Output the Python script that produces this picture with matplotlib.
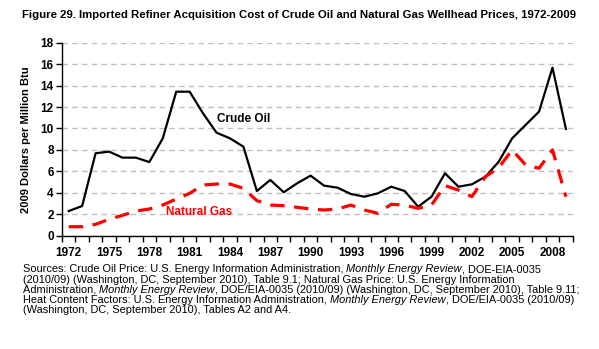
import numpy as np
import matplotlib
matplotlib.use("Agg")
import matplotlib.pyplot as plt

plt.rcParams['font.family'] = ['Liberation Sans', 'DejaVu Sans']

years = list(range(1972, 2010))
crude_oil = [2.30, 2.77, 7.69, 7.84, 7.28, 7.28, 6.87, 9.08, 13.43, 13.43,
             11.40, 9.61, 9.08, 8.30, 4.17, 5.20, 4.05, 4.89, 5.60, 4.67,
             4.48, 3.89, 3.64, 3.95, 4.57, 4.17, 2.71, 3.64, 5.82, 4.57,
             4.79, 5.50, 6.90, 9.08, 10.33, 11.57, 15.67, 9.95]
natural_gas = [0.84, 0.84, 1.06, 1.53, 1.90, 2.30, 2.49, 2.86, 3.42, 3.95,
               4.73, 4.82, 4.82, 4.42, 3.27, 2.86, 2.80, 2.65, 2.49, 2.40,
               2.49, 2.86, 2.40, 2.09, 2.93, 2.86, 2.55, 2.86, 4.67, 4.26,
               3.64, 5.50, 6.35, 8.00, 6.60, 6.29, 8.00, 3.64]
tick_years = list(range(1972, 2010, 3))

title = "Figure 29. Imported Refiner Acquisition Cost of Crude Oil and Natural Gas Wellhead Prices, 1972-2009"
source_lines = [
    [("Sources: Crude Oil Price: U.S. Energy Information Administration, ", "normal"),
     ("Monthly Energy Review", "italic"), (", DOE-EIA-0035", "normal")],
    [("(2010/09) (Washington, DC, September 2010), Table 9.1; Natural Gas Price: U.S. Energy Information", "normal")],
    [("Administration, ", "normal"), ("Monthly Energy Review", "italic"),
     (", DOE/EIA-0035 (2010/09) (Washington, DC, September 2010), Table 9.11;", "normal")],
    [("Heat Content Factors: U.S. Energy Information Administration, ", "normal"),
     ("Monthly Energy Review", "italic"), (", DOE/EIA-0035 (2010/09)", "normal")],
    [("(Washington, DC, September 2010), Tables A2 and A4.", "normal")],
]

fig = plt.figure(figsize=(5.99, 3.49), dpi=100)
ax = fig.add_axes([0.1035, 0.3246, 0.8525, 0.5531])

x = np.arange(len(years))
ax.plot(x, crude_oil, color='black', linewidth=1.6, zorder=3)
ax.plot(x, natural_gas, color='#ff0000', linewidth=2.3, dashes=(4.5, 3), zorder=3)

ax.set_xlim(-0.5, len(years) - 0.5)
ax.set_ylim(0, 18)
ax.set_yticks(range(0, 19, 2))
# ticks between the year categories, labels every third year
ax.set_xticks(np.arange(-0.5, len(years)), minor=False)
ax.set_xticklabels([])
ax.set_xticks([years.index(y) for y in tick_years], minor=True)
ax.set_xticklabels([str(y) for y in tick_years], minor=True)
ax.tick_params(axis='x', which='major', length=4, width=1, direction='out')
ax.tick_params(axis='x', which='minor', length=0, pad=8, labelsize=8.5)
ax.tick_params(axis='y', length=4, width=1, labelsize=8.5, pad=2)
for lab in ax.get_xticklabels(minor=True) + ax.get_yticklabels():
    lab.set_fontweight('bold')

ax.yaxis.grid(True, color='#c0c0c0', linestyle=(0, (4, 3)), linewidth=1)
ax.set_axisbelow(True)
for s in ['top', 'right']:
    ax.spines[s].set_visible(False)
for s in ['left', 'bottom']:
    ax.spines[s].set_linewidth(1)

ax.set_ylabel("2009 Dollars per Million Btu", fontsize=8, fontweight='bold', labelpad=7)

ax.text(11.05, 10.89, "Crude Oil", fontsize=8.5, fontweight='bold', color='black', va='center')
ax.text(7.25, 2.24, "Natural Gas", fontsize=8.5, fontweight='bold', color='#ff0000', va='center')

fig.text(0.5, 0.957, title, ha='center', va='center', fontsize=8.2, fontweight='bold')

# source note with italic pieces
fig.canvas.draw()
renderer = fig.canvas.get_renderer()
y0 = 349 - 269.5
for i, line in enumerate(source_lines):
    xpos = 23
    ypos = y0 - i * 10.2
    for txt, style in line:
        t = fig.text(xpos / 599, ypos / 349, txt, fontsize=7.9, style=style,
                     ha='left', va='center')
        bb = t.get_window_extent(renderer)
        xpos += bb.width

fig.savefig("out.png", dpi=100)
